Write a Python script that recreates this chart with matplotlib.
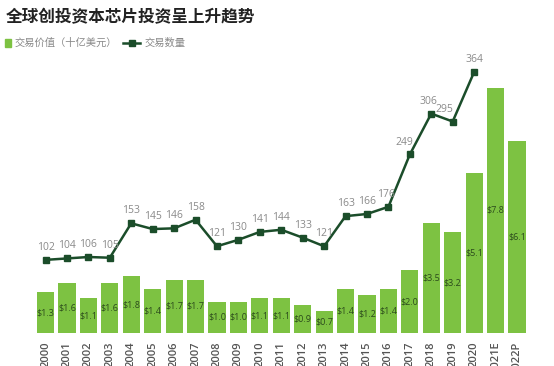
import matplotlib
matplotlib.use("Agg")
import matplotlib.pyplot as plt
from matplotlib.patches import Rectangle
from matplotlib.lines import Line2D

plt.rcParams['font.family'] = ['Noto Sans CJK SC', 'DejaVu Sans']

years = ["2000", "2001", "2002", "2003", "2004", "2005", "2006", "2007", "2008", "2009",
         "2010", "2011", "2012", "2013", "2014", "2015", "2016", "2017", "2018", "2019",
         "2020", "2021E", "2022P"]
deal_value = [1.3, 1.6, 1.1, 1.6, 1.8, 1.4, 1.7, 1.7, 1.0, 1.0,
              1.1, 1.1, 0.9, 0.7, 1.4, 1.2, 1.4, 2.0, 3.5, 3.2,
              5.1, 7.8, 6.1]
deal_count = [102, 104, 106, 105, 153, 145, 146, 158, 121, 130,
              141, 144, 133, 121, 163, 166, 176, 249, 306, 295, 364]

BAR = "#7dc242"
LINE = "#1b4d2a"
W, H = 554, 366

fig = plt.figure(figsize=(W / 100, H / 100), dpi=100)
ax = fig.add_axes([34.8 / W, 33 / H, 492.9 / W, 273 / H])
x = list(range(len(years)))

ax.bar(x, deal_value, width=0.8, color=BAR, zorder=1)
for xi, v in zip(x, deal_value):
    ax.text(xi, v / 2, f"${v:.1f}", ha="center", va="center", fontsize=6.5,
            color="#2b4a1c", family=["Open Sans", "DejaVu Sans"])
ax.set_xlim(-0.5, len(years) - 0.5)
ax.set_ylim(0, 8.69)
ax.set_xticks(x)
ax.set_xticklabels(years, rotation=90, fontsize=8, color="#555555",
                   family=["Open Sans", "DejaVu Sans"], fontweight="semibold")
ax.tick_params(axis="x", length=0, pad=6)
ax.set_yticks([])
for s in ax.spines.values():
    s.set_visible(False)

ax2 = ax.twinx()
lx = x[:len(deal_count)]
ax2.plot(lx, deal_count, color=LINE, lw=1.8, marker="s", markersize=4, zorder=3)
# labels on the steep part sit a bit to the left of their points
shift = {16: -2, 17: -4, 18: -2, 19: -6}
for xi, v in zip(lx, deal_count):
    ax2.annotate(str(v), (xi, v), xytext=(shift.get(xi, 0), 5), textcoords="offset points",
                 ha="center", va="bottom", fontsize=7.5, color="#8a8a8a",
                 family=["Open Sans", "DejaVu Sans"])
ax2.set_ylim(0, 380.8)
ax2.set_yticks([])
for s in ax2.spines.values():
    s.set_visible(False)

fig.text(6 / W, 1 - 17 / H, "全球创投资本芯片投资呈上升趋势", fontsize=12,
         fontweight="bold", color="#222222", va="center", ha="left")

ly = 1 - 43 / H
fig.patches.append(Rectangle((5 / W, ly - 3.5 / H), 6 / W, 7 / H, color=BAR,
                             transform=fig.transFigure, figure=fig))
fig.text(15 / W, ly, "交易价值（十亿美元）", fontsize=7.4, color="#888888", va="center")
fig.lines.append(Line2D([123 / W, 140 / W], [ly, ly], color=LINE, lw=1.8,
                        transform=fig.transFigure, figure=fig))
fig.lines.append(Line2D([131.5 / W], [ly], color=LINE, marker="s", markersize=4.5,
                        transform=fig.transFigure, figure=fig))
fig.text(145 / W, ly, "交易数量", fontsize=7.4, color="#888888", va="center")

fig.savefig("out.png", dpi=100)
